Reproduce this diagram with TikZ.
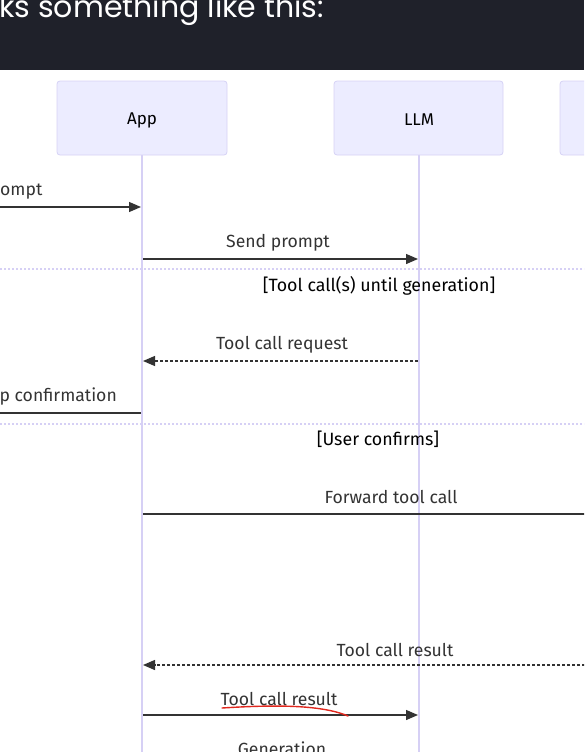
\documentclass[tikz,border=0pt]{standalone}
\usepackage{fontspec}
\setmainfont{Fira Sans}
\newfontfamily\headfont{Poppins}
\usetikzlibrary{arrows.meta}
\definecolor{band}{RGB}{31,33,42}
\definecolor{actfill}{RGB}{236,236,255}
\definecolor{actdraw}{RGB}{214,210,245}
\definecolor{life}{RGB}{214,208,245}
\definecolor{msg}{RGB}{51,51,51}
\definecolor{squig}{RGB}{225,40,30}
\tikzset{
  actor/.style={draw=actdraw, fill=actfill, rounded corners=3pt, line width=0.8pt},
  lifeline/.style={draw=life, line width=1.6pt},
  msgline/.style={draw=msg, line width=1.3pt},
  msgtip/.style={-{Triangle[length=12pt,width=10pt]}},
  reply/.style={dash pattern=on 3pt off 2pt},
  msglabel/.style={text=msg, font=\fontsize{17.6}{20}\selectfont, inner sep=0pt, anchor=base},
  looplabel/.style={text=black, font=\fontsize{17.8}{20}\selectfont, inner sep=0pt, anchor=base},
  actlabel/.style={text=black, font=\fontsize{17}{20}\selectfont},
  loopline/.style={draw=life, line width=1.2pt, dash pattern=on 2pt off 2pt},
}
\begin{document}
\begin{tikzpicture}[x=1pt,y=-1pt]
\useasboundingbox (0,0) rectangle (584,752);
\begin{scope}
\clip (0,0) rectangle (584,752);
% header band
\fill[band] (0,0) rectangle (584,70);
\node[anchor=base west, inner sep=0pt, text=white, font=\headfont\fontsize{30}{33}\selectfont] (head) at (-1,18) {ks something like this:};
% lifelines
\coordinate (appTop) at (142,155);
\coordinate (appBot) at (142,760);
\coordinate (llmTop) at (419,155);
\coordinate (llmBot) at (419,760);
\draw[lifeline] (appTop) -- (appBot);
\draw[lifeline] (llmTop) -- (llmBot);
% actors
\draw[actor] (57,81) rectangle (227,155);
\node[actlabel] (app) at (142,120) {App};
\draw[actor] (334,81) rectangle (503,155);
\node[actlabel] (llm) at (419,120) {LLM};
\draw[actor] (560,81) rectangle (700,155);
% message 1
\coordinate (m1a) at (-5,207);
\coordinate (m1b) at (141,207);
\draw[msgline, msgtip] (m1a) -- (m1b);
\node[msglabel, anchor=base west] (l1) at (0,195) {ompt};
% message 2
\coordinate (m2a) at (143,259);
\coordinate (m2b) at (418,259);
\draw[msgline, msgtip] (m2a) -- (m2b);
\node[msglabel] (l2) at (278,247) {Send prompt};
% loop 1
\coordinate (d1a) at (0,269);
\coordinate (d1b) at (584,269);
\draw[loopline] (d1a) -- (d1b);
\node[looplabel] (lp1) at (379,291) {[Tool call(s) until generation]};
% message 3
\coordinate (m3a) at (418,361);
\coordinate (m3b) at (143,361);
\draw[msgline, reply, msgtip] (m3a) -- (m3b);
\node[msglabel] (l3) at (282,349) {Tool call request};
% message 4
\coordinate (m4a) at (141,413);
\coordinate (m4b) at (-5,413);
\draw[msgline] (m4a) -- (m4b);
\node[msglabel, anchor=base east] (l4) at (117,401) {p confirmation};
% loop 2
\coordinate (d2a) at (0,424);
\coordinate (d2b) at (584,424);
\draw[loopline] (d2a) -- (d2b);
\node[looplabel] (lp2) at (378,445) {[User confirms]};
% message 5
\coordinate (m5a) at (143,514);
\coordinate (m5b) at (590,514);
\draw[msgline] (m5a) -- (m5b);
\node[msglabel] (l5) at (391,503) {Forward tool call};
% message 6
\coordinate (m6a) at (590,665);
\coordinate (m6b) at (143,665);
\draw[msgline, reply, msgtip] (m6a) -- (m6b);
\node[msglabel] (l6) at (395,656) {Tool call result};
% message 7
\coordinate (m7a) at (143,715);
\coordinate (m7b) at (418,715);
\draw[msgline, msgtip] (m7a) -- (m7b);
\node[msglabel] (l7) at (279,705) {Tool call result};
\draw[squig, line width=1.4pt, line cap=round] (222,708) .. controls (270,705) and (320,704) .. (348,716);
% generation
\node[msglabel] (gen) at (282,755) {Generation};
\end{scope}
\end{tikzpicture}
\end{document}
